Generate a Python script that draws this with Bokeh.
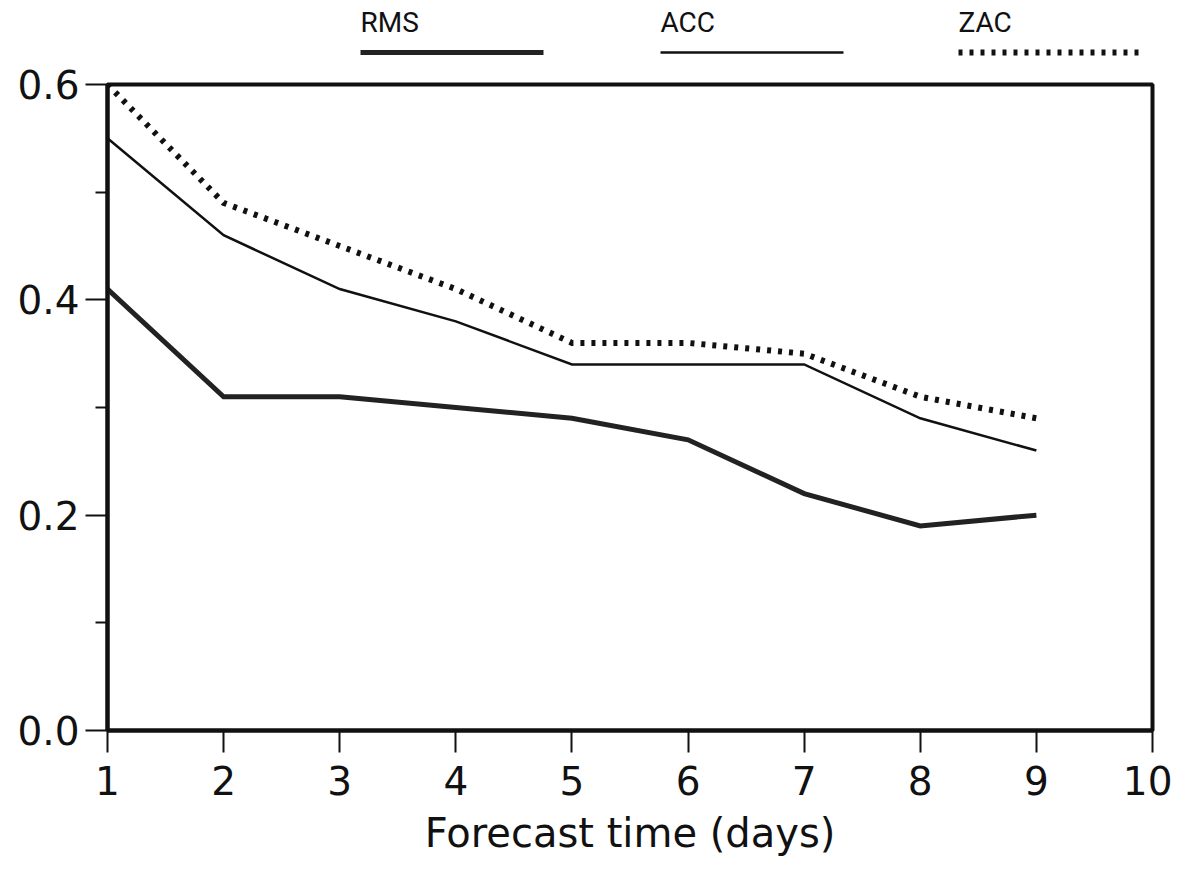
from bokeh.plotting import figure
from bokeh.layouts import column
from bokeh.models import Range1d, FixedTicker, Label, CustomJSTickFormatter
from bokeh.embed import file_html
from bokeh.resources import INLINE

days = [1, 2, 3, 4, 5, 6, 7, 8, 9]
rms = [0.41, 0.31, 0.31, 0.30, 0.29, 0.27, 0.22, 0.19, 0.20]
acc = [0.55, 0.46, 0.41, 0.38, 0.34, 0.34, 0.34, 0.29, 0.26]
zac = [0.60, 0.49, 0.45, 0.41, 0.36, 0.36, 0.35, 0.31, 0.29]
series_names = ["RMS", "ACC", "ZAC"]
x_ticks = [1, 2, 3, 4, 5, 6, 7, 8, 9, 10]
y_ticks = [0.0, 0.2, 0.4, 0.6]
y_minor = [0.1, 0.3, 0.5]
x_title = "Forecast time (days)"

FONT = "DejaVu Sans"
styles = [
    dict(line_width=5, line_color="#222222", line_dash="solid"),
    dict(line_width=2.5, line_color="#111111", line_dash="solid"),
    dict(line_width=6, line_color="#111111", line_dash="4 7"),
]

FL, FR = 107, 1152      # frame left/right (page px)
LEG_H = 58

# legend strip (its frame is aligned with the main frame by the column layout)
leg = figure(width=FR + 20, height=LEG_H, output_backend="svg", toolbar_location=None,
             x_range=Range1d(FL, FR), y_range=Range1d(LEG_H, 0),
             min_border_left=FL, min_border_right=20, min_border_top=0, min_border_bottom=0)
leg.axis.visible = False
leg.grid.visible = False
leg.outline_line_color = None
leg_x = [360, 660, 958]
for name, x0, st in zip(series_names, leg_x, styles):
    leg.add_layout(Label(x=x0, y=22, text=name, text_font="Roboto",
                         text_font_size="28px", text_color="#111111",
                         text_baseline="alphabetic"))
    leg.line([x0, x0 + 183], [52, 52], **st)

p = figure(frame_width=FR - FL, frame_height=646, output_backend="svg", toolbar_location=None,
           x_range=Range1d(1, 10), y_range=Range1d(0, 0.6),
           min_border_left=FL, min_border_right=20, min_border_top=84 - LEG_H,
           min_border_bottom=136)
p.grid.visible = False
p.outline_line_color = "#111111"
p.outline_line_width = 4

for vals, st in zip([rms, acc, zac], styles):
    p.line(days, vals, line_join="miter", **st)

p.xaxis.ticker = FixedTicker(ticks=x_ticks)
p.yaxis.ticker = FixedTicker(ticks=y_ticks, minor_ticks=y_minor)
p.yaxis.formatter = CustomJSTickFormatter(code="return tick.toFixed(1);")
for ax in (p.xaxis[0], p.yaxis[0]):
    ax.axis_line_width = 4
    ax.axis_line_color = "#111111"
    ax.major_tick_line_width = 2
    ax.major_tick_line_color = "#111111"
    ax.major_tick_out = 22
    ax.major_tick_in = 0
    ax.major_label_text_font = FONT
    ax.major_label_text_font_size = "39px"
    ax.major_label_text_color = "#111111"
p.yaxis.minor_tick_out = 12
p.yaxis.minor_tick_in = 0
p.yaxis.minor_tick_line_width = 2
p.yaxis.minor_tick_line_color = "#111111"
p.xaxis.minor_tick_line_color = None
p.xaxis.major_label_standoff = 13
p.yaxis.major_label_standoff = 6
p.xaxis.axis_label = x_title
p.xaxis.axis_label_text_font = FONT
p.xaxis.axis_label_text_font_size = "40px"
p.xaxis.axis_label_text_font_style = "normal"
p.xaxis.axis_label_text_color = "#111111"
p.xaxis.axis_label_standoff = 12

lay = column(leg, p, spacing=0)
open("out.html", "w").write(file_html(lay, INLINE))
